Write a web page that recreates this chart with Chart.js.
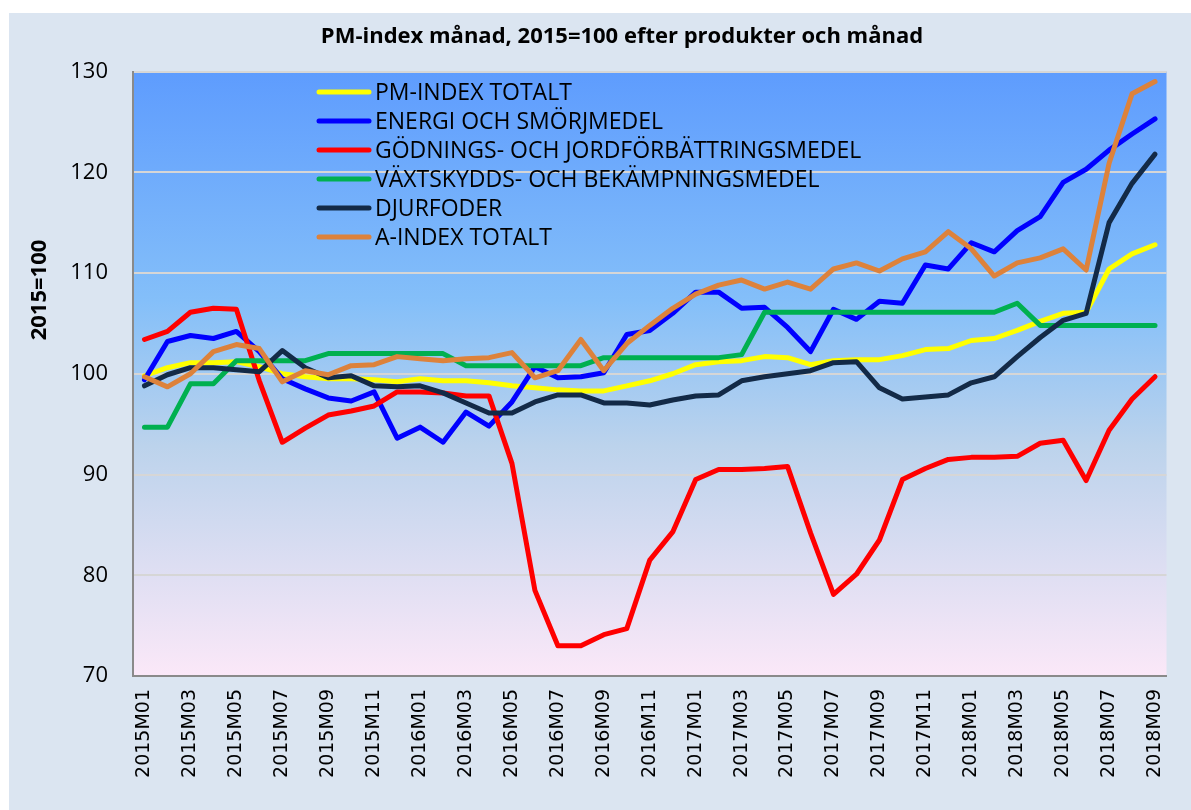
<!DOCTYPE html>
<html>
<head>
<meta charset="utf-8">
<script src="https://cdn.jsdelivr.net/npm/chart.js@4/dist/chart.umd.min.js"></script>
<style>
  html, body { margin: 0; padding: 0; background: #ffffff; }
  #wrap { width: 1191px; height: 810px; position: relative; }
</style>
</head>
<body>
<div id="wrap"><canvas id="pmChart" width="1191" height="810"></canvas></div>
<script>
// månader 2015M01 - 2018M09
const months = [
  '2015M01','2015M02','2015M03','2015M04','2015M05','2015M06','2015M07','2015M08','2015M09','2015M10','2015M11','2015M12',
  '2016M01','2016M02','2016M03','2016M04','2016M05','2016M06','2016M07','2016M08','2016M09','2016M10','2016M11','2016M12',
  '2017M01','2017M02','2017M03','2017M04','2017M05','2017M06','2017M07','2017M08','2017M09','2017M10','2017M11','2017M12',
  '2018M01','2018M02','2018M03','2018M04','2018M05','2018M06','2018M07','2018M08','2018M09'
];

const pmTotalt = [99.8,100.6,101.1,101.1,101.2,100.7,100.0,99.7,99.5,99.5,99.4,99.2,99.5,99.3,99.3,99.1,98.8,98.6,98.4,98.3,98.3,98.8,99.3,100.0,100.9,101.2,101.3,101.7,101.6,100.9,101.3,101.4,101.4,101.8,102.4,102.5,103.3,103.5,104.3,105.2,106.0,106.1,110.4,111.9,112.8];
const energi = [99.4,103.2,103.8,103.5,104.2,102.2,99.5,98.5,97.6,97.3,98.2,93.6,94.7,93.2,96.2,94.8,97.2,100.7,99.6,99.7,100.1,103.9,104.3,106.0,108.1,108.1,106.5,106.6,104.6,102.2,106.4,105.4,107.2,107.0,110.8,110.4,113.0,112.1,114.2,115.6,119.0,120.3,122.2,123.8,125.3];
const godning = [103.4,104.2,106.1,106.5,106.4,99.3,93.2,94.6,95.9,96.3,96.8,98.2,98.2,98.1,97.8,97.8,91.1,78.5,73.0,73.0,74.1,74.7,81.5,84.3,89.5,90.5,90.5,90.6,90.8,84.2,78.1,80.1,83.5,89.5,90.6,91.5,91.7,91.7,91.8,93.1,93.4,89.4,94.4,97.5,99.7];
const vaxtskydd = [94.7,94.7,99.0,99.0,101.3,101.3,101.3,101.3,102.0,102.0,102.0,102.0,102.0,102.0,100.8,100.8,100.8,100.8,100.8,100.8,101.6,101.6,101.6,101.6,101.6,101.6,101.9,106.1,106.1,106.1,106.1,106.1,106.1,106.1,106.1,106.1,106.1,106.1,107.0,104.8,104.8,104.8,104.8,104.8,104.8];
const djurfoder = [98.8,99.9,100.6,100.6,100.4,100.2,102.3,100.6,99.6,99.8,98.8,98.7,98.8,98.1,97.1,96.1,96.1,97.2,97.9,97.9,97.1,97.1,96.9,97.4,97.8,97.9,99.3,99.7,100.0,100.3,101.1,101.2,98.6,97.5,97.7,97.9,99.1,99.7,101.7,103.6,105.3,106.0,115.0,118.9,121.8];
const aIndex = [99.7,98.7,100.0,102.2,102.9,102.5,99.2,100.3,99.9,100.8,100.9,101.7,101.5,101.3,101.5,101.6,102.1,99.6,100.3,103.4,100.3,103.0,104.8,106.5,107.9,108.8,109.3,108.4,109.1,108.4,110.4,111.0,110.2,111.4,112.1,114.1,112.4,109.7,111.0,111.5,112.4,110.3,120.9,127.8,129.0];

const seriesNames = ['PM-INDEX TOTALT','ENERGI OCH SMÖRJMEDEL','GÖDNINGS- OCH JORDFÖRBÄTTRINGSMEDEL','VÄXTSKYDDS- OCH BEKÄMPNINGSMEDEL','DJURFODER','A-INDEX TOTALT'];
const seriesData = [pmTotalt, energi, godning, vaxtskydd, djurfoder, aIndex];
const seriesColors = ['#ffff00','#0000ff','#ff0000','#00b050','#132a47','#dd823b'];

const yTicks = [70, 80, 90, 100, 110, 120, 130];

const FONT = "'Open Sans', 'DejaVu Sans', sans-serif";

// bakgrund: panel + gradient i plotytan
const backgroundPlugin = {
  id: 'bgPanel',
  beforeDraw(chart) {
    const { ctx, chartArea: a } = chart;
    ctx.save();
    ctx.fillStyle = '#ffffff';
    ctx.fillRect(0, 0, chart.width, chart.height);
    ctx.fillStyle = '#dbe5f1';
    ctx.fillRect(9, 13, chart.width - 9, chart.height - 13);
    const g = ctx.createLinearGradient(0, a.top, 0, a.bottom);
    g.addColorStop(0, '#5e9cfe');
    g.addColorStop(0.38, '#84bff9');
    g.addColorStop(0.62, '#bcd3ec');
    g.addColorStop(1, '#fbe8f8');
    ctx.fillStyle = g;
    ctx.fillRect(a.left, a.top, a.right - a.left, a.bottom - a.top);
    ctx.restore();
  }
};

// legend inne i plotytan + y-axelns rubrik
const legendPlugin = {
  id: 'innerLegend',
  afterDatasetsDraw(chart) {
    const ctx = chart.ctx;
    ctx.save();
    ctx.font = '23px ' + FONT;
    ctx.textBaseline = 'middle';
    chart.data.datasets.forEach((ds, i) => {
      const y = 92 + i * 29;
      ctx.strokeStyle = ds.borderColor;
      ctx.lineWidth = 5;
      ctx.lineCap = 'round';
      ctx.beginPath();
      ctx.moveTo(319, y);
      ctx.lineTo(369, y);
      ctx.stroke();
      ctx.fillStyle = '#000000';
      ctx.fillText(ds.label, 375, y + 1);
    });
    // y-axelns titel
    ctx.translate(40, 290);
    ctx.rotate(-Math.PI / 2);
    ctx.font = 'bold 22px ' + FONT;
    ctx.textAlign = 'center';
    ctx.fillText('2015=100', 0, 0);
    ctx.restore();
  }
};

new Chart(document.getElementById('pmChart'), {
  type: 'line',
  data: {
    labels: months,
    datasets: seriesNames.map((name, i) => ({
      label: name,
      data: seriesData[i],
      borderColor: seriesColors[i],
      backgroundColor: seriesColors[i],
      borderWidth: 5,
      pointRadius: 0,
      tension: 0,
      borderCapStyle: 'round',
      borderJoinStyle: 'round',
      order: seriesNames.length - i
    }))
  },
  options: {
    responsive: false,
    animation: false,
    layout: { padding: { left: 68, right: 15, top: 0, bottom: 0 } },
    plugins: {
      legend: { display: false },
      tooltip: { enabled: false },
      title: {
        display: true,
        text: 'PM-index månad, 2015=100 efter produkter och månad',
        color: '#000000',
        font: { family: FONT, size: 22, weight: 'bold', lineHeight: 1.2 },
        padding: { top: 24, bottom: 21.1 }
      }
    },
    scales: {
      x: {
        offset: true,
        grid: { display: false, drawTicks: false },
        border: { display: true, color: '#8a8a8a', width: 2 },
        ticks: {
          autoSkip: false,
          minRotation: 90,
          maxRotation: 90,
          padding: 13,
          color: '#000000',
          font: { family: "'DejaVu Sans', sans-serif", size: 19 },
          callback: (v, i) => (i % 2 === 0 ? months[i] : '')
        },
        afterFit(scale) { scale.height = 134; }
      },
      y: {
        min: 70,
        max: 130,
        afterBuildTicks(scale) { scale.ticks = yTicks.map(v => ({ value: v })); },
        grid: { color: '#d6d6d6', lineWidth: 2, drawTicks: false },
        border: { display: true, color: '#8a8a8a', width: 2 },
        ticks: {
          padding: 25,
          color: '#000000',
          font: { family: FONT, size: 22 }
        },
        afterFit(scale) { scale.width = 65; }
      }
    }
  },
  plugins: [backgroundPlugin, legendPlugin]
});
</script>
</body>
</html>
